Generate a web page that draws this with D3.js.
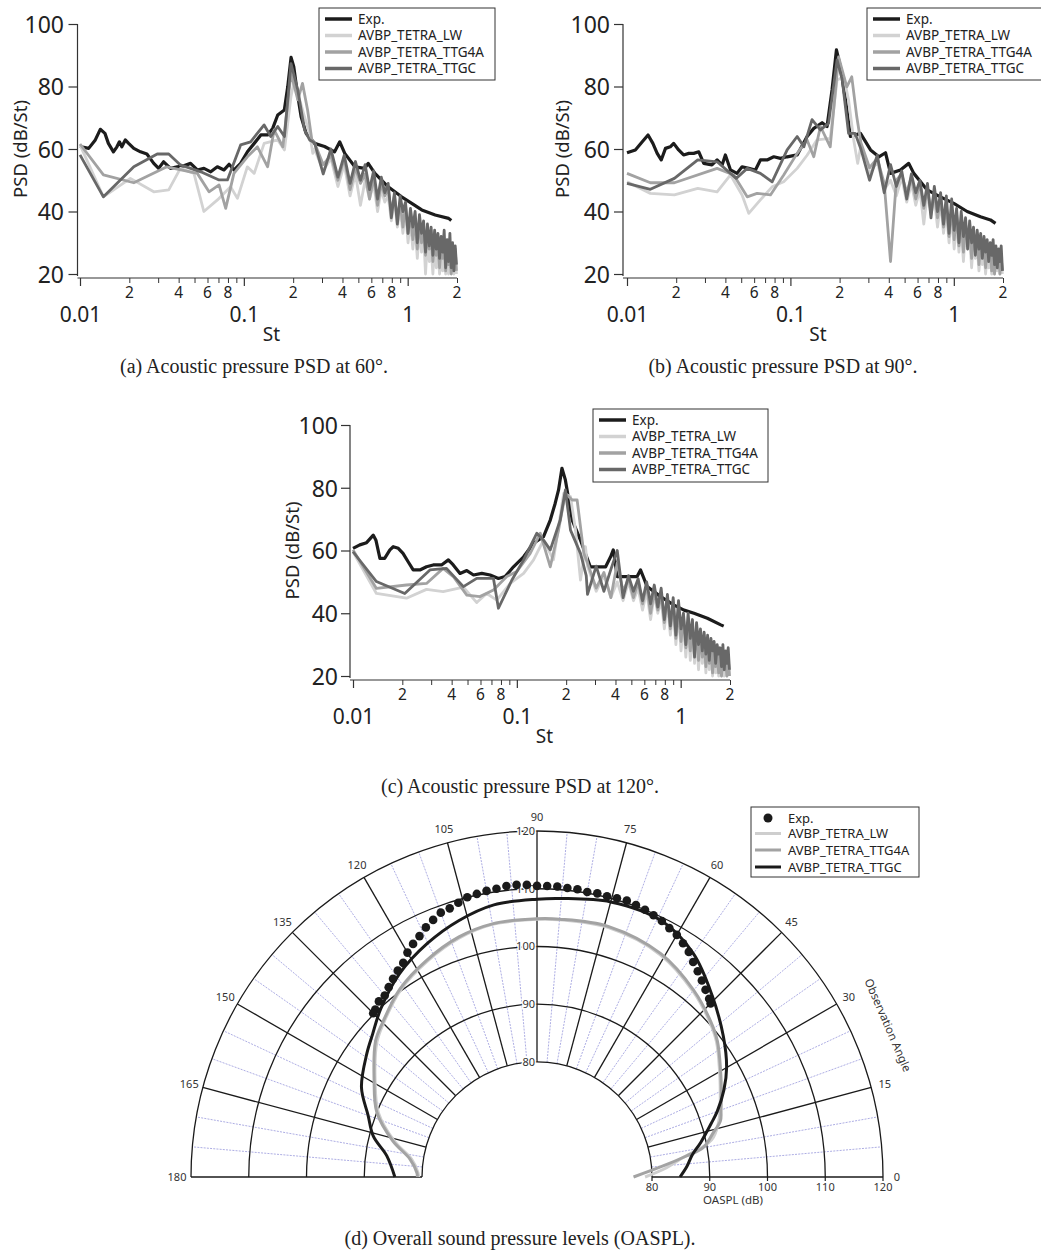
<!DOCTYPE html>
<html><head><meta charset="utf-8">
<script src="https://cdn.jsdelivr.net/npm/d3@7"></script>
<style>body{margin:0;background:#fff}svg{display:block}</style>
</head><body>
<svg id="c" width="1041" height="1255"></svg>
<script>
// ---------------- DATA ----------------
const seriesNames = ["Exp.", "AVBP_TETRA_LW", "AVBP_TETRA_TTG4A", "AVBP_TETRA_TTGC"];
const yTicks = [20, 40, 60, 80, 100];
const xMajorTicks = [0.01, 0.1, 1];
const xMinorTicks = [0.02,0.03,0.04,0.05,0.06,0.07,0.08,0.09,0.2,0.3,0.4,0.5,0.6,0.7,0.8,0.9,2];
const xMinorLabelled = [0.02,0.04,0.06,0.08,0.2,0.4,0.6,0.8,2];
const captions = ["(a) Acoustic pressure PSD at 60°.", "(b) Acoustic pressure PSD at 90°.", "(c) Acoustic pressure PSD at 120°.", "(d) Overall sound pressure levels (OASPL)."];

// shared Strouhal grid for the noisy high-frequency part of the simulations
const hfSt = [0.27,0.305,0.34,0.375,0.41,0.445,0.48,0.515,0.55,0.585,
  0.62,0.655,0.69,0.725,0.76,0.795,0.83,0.865,0.9,0.935,
  0.97,1.005,1.04,1.075,1.11,1.145,1.18,1.215,1.25,1.285,
  1.32,1.355,1.39,1.425,1.46,1.495,1.53,1.565,1.6,1.635,
  1.67,1.705,1.74,1.775,1.81,1.845,1.88,1.915,1.95,1.985];

// ---- panel (a) 60 deg ----
const a_exp = [[0.01,60.8],[0.0113,60.2],[0.0124,62.9],[0.0133,66.3],[0.0142,65.0],[0.0149,61.8],[0.016,59.1],[0.0168,60.7],[0.0174,62.3],[0.018,60.7],[0.0189,62.9],[0.0198,61.8],[0.0213,60.2],[0.0234,59.1],[0.0256,58.4],[0.0282,55.4],[0.0302,53.8],[0.0324,55.9],[0.0357,53.8],[0.0392,54.3],[0.043,54.6],[0.0473,55.4],[0.052,53.3],[0.0571,53.8],[0.0628,52.7],[0.0689,54.3],[0.0757,53.3],[0.0813,55.1],[0.0872,53.3],[0.0956,55.4],[0.1052,59.1],[0.1157,61.8],[0.127,64.5],[0.1397,64.5],[0.15,66.6],[0.161,70.9],[0.1767,72.5],[0.1853,79.9],[0.1942,89.3],[0.2017,86.3],[0.2115,78.3],[0.2237,70.3],[0.24,65.0],[0.27,61.8],[0.311,60.8],[0.358,59.1],[0.385,62.3],[0.413,58.6],[0.476,54.3],[0.547,53.8],[0.574,55.4],[0.631,52.2],[0.76,47.9],[0.918,44.7],[1.059,42.6],[1.219,40.5],[1.472,38.9],[1.778,37.8],[1.845,37.1]];
const a_lw_low = [[0.01,61.3],[0.0139,44.7],[0.0203,50.6],[0.0282,46.3],[0.0348,46.9],[0.041,53.8],[0.0496,52.2],[0.057,40.0],[0.069,43.7],[0.083,47.9],[0.0914,44.2],[0.105,54.3],[0.1157,52.2],[0.133,61.8],[0.161,62.9],[0.177,59.7],[0.194,76.8],[0.2035,82.1],[0.2136,77.8],[0.2347,70.3],[0.252,65.0],[0.2635,58.6]];
const a_g4_low = [[0.01,61.6],[0.0139,51.7],[0.0213,49.2],[0.0339,54.3],[0.052,52.2],[0.0613,46.3],[0.0706,48.5],[0.0775,41.0],[0.087,52.2],[0.105,57.5],[0.121,60.7],[0.1397,54.3],[0.153,66.1],[0.173,60.7],[0.194,84.2],[0.2136,75.7],[0.228,81.0],[0.245,72.5],[0.26,63.0]];
const a_gc_low = [[0.01,58.1],[0.0139,44.7],[0.0213,54.3],[0.0296,58.4],[0.0348,58.4],[0.041,54.9],[0.0546,52.7],[0.0706,50.1],[0.0794,50.1],[0.0956,61.3],[0.11,62.3],[0.133,67.7],[0.146,64.0],[0.161,67.2],[0.177,64.0],[0.194,87.3],[0.2136,78.8],[0.2347,66.1],[0.252,62.9]];
const a_lw_hf = [60,53,57,48,55,45,52,42,50,44, 49,40,47,43,45,37,44,35,41,33, 40,30,37,28,35,25,34,27,33,20, 31,24,29,20,30,22,28,20,27,21, 28,20,26,20,25,21,24,20,26,20];
const a_g4_hf = [62,55,58,50,57,47,54,49,52,44, 51,42,49,45,47,40,45,38,43,35, 42,33,39,31,37,28,36,30,35,26, 33,28,32,24,31,26,30,22,29,25, 30,21,28,23,27,20,26,22,28,21];
const a_gc_hf = [62,52,60,51,58,49,56,50,55,47, 53,44,51,46,49,38,46,36,45,40, 43,33,41,35,40,30,39,33,37,27, 36,29,35,26,34,28,33,25,32,27, 34,22,31,24,33,22,30,21,29,23];

// ---- panel (b) 90 deg ----
const b_exp = [[0.01,58.8],[0.01125,59.7],[0.0124,62.3],[0.01345,64.5],[0.0144,61.8],[0.0153,58.6],[0.0162,56.5],[0.0172,60.2],[0.0184,60.7],[0.0193,61.8],[0.0207,59.7],[0.0222,58.1],[0.0239,58.6],[0.0256,58.6],[0.0275,59.1],[0.0295,55.4],[0.0331,54.9],[0.0356,56.5],[0.0382,54.9],[0.04,58.1],[0.043,53.3],[0.0471,52.2],[0.0506,54.3],[0.0556,53.8],[0.0611,53.3],[0.0655,56.5],[0.072,56.5],[0.0791,57.5],[0.0869,57.0],[0.0955,57.5],[0.11,58.1],[0.1265,64.0],[0.139,66.6],[0.1563,68.4],[0.1676,67.2],[0.1798,78.9],[0.1913,91.7],[0.2023,86.3],[0.2172,75.7],[0.2329,64.0],[0.2684,65.0],[0.3093,59.7],[0.3478,57.5],[0.382,58.8],[0.41,52.2],[0.4714,53.3],[0.53,55.4],[0.569,52.2],[0.687,46.9],[0.828,44.7],[1.0,42.6],[1.207,40.0],[1.456,38.3],[1.676,37.3],[1.8,36.2]];
const b_lw_low = [[0.01,49.5],[0.0139,45.8],[0.0195,45.3],[0.0271,47.4],[0.0356,46.3],[0.043,51.7],[0.0506,45.3],[0.0556,39.4],[0.0655,43.7],[0.0773,47.9],[0.091,49.5],[0.11,53.8],[0.1265,58.0],[0.1453,62.9],[0.1753,63.4],[0.193,82.1],[0.212,83.1],[0.227,75.7],[0.244,62.9],[0.258,55.4]];
const b_g4_low = [[0.01,52.2],[0.0139,49.2],[0.0195,49.2],[0.0356,53.8],[0.045,51.7],[0.0544,44.7],[0.0625,45.8],[0.0755,45.3],[0.091,51.7],[0.11,58.6],[0.1265,62.9],[0.139,57.5],[0.1527,67.2],[0.1753,60.7],[0.1972,89.5],[0.2213,79.9],[0.2374,83.1],[0.2548,70.3]];
const b_gc_low = [[0.01,49.0],[0.0139,47.1],[0.0195,50.6],[0.0271,56.5],[0.0356,55.9],[0.0466,50.6],[0.0544,53.8],[0.0655,52.2],[0.0773,49.5],[0.0955,59.7],[0.11,64.0],[0.1209,60.7],[0.1356,69.4],[0.1527,66.1],[0.1712,68.2],[0.193,88.5],[0.2076,82.1],[0.227,65.0],[0.249,65.0]];
const b_lw_hf = [61,52,56,47,50,45,51,43,49,42, 47,36,46,39,44,35,43,33,40,30, 39,28,37,27,35,24,34,28,32,22, 31,25,29,21,28,23,27,20,26,22, 26,20,25,20,24,21,25,20,23,20];
const b_g4_hf = [62,54,57,49,24,50,52,46,51,44, 49,41,47,40,46,38,44,35,42,32, 41,31,39,29,37,27,36,30,34,25, 33,27,31,23,30,26,29,22,28,24, 28,21,27,20,26,22,27,20,25,21];
const b_gc_hf = [60,50,58,46,55,48,53,44,52,46, 50,42,49,38,48,40,46,36,45,33, 44,34,41,30,40,32,38,28,37,30, 35,26,34,28,33,25,32,27,31,24, 30,26,31,23,29,22,28,24,29,21];

// ---- panel (c) 120 deg ----
const c_exp = [[0.01,60.7],[0.011,61.8],[0.0121,62.5],[0.0133,64.9],[0.0138,63.3],[0.0146,57.5],[0.0156,57.5],[0.0168,60.2],[0.0176,61.2],[0.0189,60.7],[0.0202,59.1],[0.0217,56.4],[0.0233,53.8],[0.0256,53.8],[0.0281,54.8],[0.0309,55.4],[0.0347,55.4],[0.0382,57.0],[0.0409,55.4],[0.045,52.7],[0.0495,53.6],[0.0544,52.2],[0.0611,52.7],[0.0687,52.2],[0.0772,51.1],[0.0848,51.7],[0.0954,54.8],[0.11,58.0],[0.1265,62.3],[0.1455,64.4],[0.16,69.7],[0.1713,75.0],[0.1797,79.3],[0.1885,86.2],[0.1978,82.5],[0.2075,76.1],[0.2177,69.7],[0.2446,63.3],[0.2807,54.8],[0.309,54.8],[0.3483,54.8],[0.3735,58.0],[0.3879,60.2],[0.4102,51.7],[0.4716,51.7],[0.5421,51.7],[0.5686,53.8],[0.6245,48.5],[0.7544,45.3],[0.9114,42.6],[1.048,41.0],[1.206,40.0],[1.455,38.4],[1.758,36.3],[1.83,35.9]];
const c_lw_low = [[0.01,59.6],[0.0139,46.3],[0.0212,44.8],[0.0281,47.6],[0.0355,46.9],[0.0472,48.3],[0.0569,43.4],[0.0655,46.3],[0.0754,44.2],[0.0911,49.5],[0.11,52.7],[0.1265,57.0],[0.1455,63.3],[0.1673,57.0],[0.1931,78.2],[0.2126,77.2],[0.2281,66.5],[0.2446,50.6],[0.2624,61.2]];
const c_g4_low = [[0.01,60.2],[0.0139,47.9],[0.0212,49.0],[0.0281,49.5],[0.0355,54.3],[0.0409,51.7],[0.0495,45.8],[0.0595,45.3],[0.072,47.4],[0.0868,51.7],[0.1,53.3],[0.1207,59.1],[0.139,65.5],[0.16,54.8],[0.1797,66.5],[0.1978,78.2],[0.2177,76.1],[0.2333,76.1],[0.2564,59.1]];
const c_gc_low = [[0.01,59.6],[0.0139,50.1],[0.0207,46.3],[0.0295,53.8],[0.0372,54.3],[0.0472,48.5],[0.0569,51.1],[0.072,51.1],[0.0772,41.6],[0.0933,50.6],[0.11,57.0],[0.1325,65.5],[0.1455,63.3],[0.16,60.2],[0.184,69.7],[0.1978,79.3],[0.2126,66.5],[0.2446,59.1],[0.2652,52.0]];
const c_lw_hf = [55,47,52,45,50,44,50,44,48,41, 47,38,46,40,44,35,43,33,41,30, 40,28,37,26,36,25,34,24,33,22, 31,24,30,21,29,22,28,20,27,21, 26,20,25,20,24,20,25,20,24,20];
const c_g4_hf = [56,48,53,45,56,47,51,45,50,43, 49,40,47,41,46,37,45,35,43,32, 41,31,39,29,37,28,36,27,34,25, 33,26,31,23,30,24,29,21,28,23, 27,21,27,20,26,22,25,20,26,20];
const c_gc_hf = [46,55,47,54,60,45,52,47,51,44, 50,43,49,42,48,38,46,36,45,33, 44,35,40,30,40,32,38,26,37,30, 35,28,34,27,33,25,32,28,31,24, 30,27,29,23,30,22,28,24,29,22];

// ---- panel (d) OASPL polar ----
const polarRingValues = [80, 90, 100, 110, 120];
const polarAngleTicks = [0,15,30,45,60,75,90,105,120,135,150,165,180];
const expAngles = [45,46,48,50,52,54,56,58,60,62,64,66,68,70,72,74,76,78,80,82,84,86,88,90,92,94,96,98,100,102,104,106,108,110,112,114,116,118,120,122,124,126,128,130,132,134,135];
const expOaspl = [102.6,103.0,103.7,104.5,105.3,106.1,107.1,107.8,108.5,108.9,109.4,109.7,110.0,110.2,110.4,110.3,110.2,110.3,110.2,110.4,110.4,110.5,110.5,110.5,110.7,110.8,110.75,110.5,110.4,110.2,110.0,109.5,109.0,108.8,108.1,107.4,106.5,105.8,104.95,103.8,103.2,102.5,101.8,101.1,101.0,100.4,100.2];
const lwAngles = [0,4,7,12,17,20,25,30,37,42,50,61,74,85,90,100,108,117,126,135,140,149,158,166,172,178,180];
const lwOaspl = [78.8,82.5,85.0,91.0,93.0,93.8,95.1,96.6,99.0,100.3,102.1,104.1,105.0,104.8,104.7,104.5,103.6,102.0,100.2,97.7,96.3,92.8,89.7,85.5,82.0,80.7,80.6];
const g4Angles = [0,5,8,10,14,17,20,25,30,37,42,50,61,74,85,90,100,108,117,126,135,140,149,158,166,172,178,180];
const g4Oaspl = [76.8,82.0,86.2,89.3,91.5,93.3,94.0,95.3,96.8,99.2,100.5,102.3,104.3,105.2,104.9,104.8,104.6,103.8,102.2,100.4,97.9,96.6,93.0,90.0,85.8,82.3,80.9,80.8];
const gcAngles = [0,4,8,12,17,20,25,30,37,46,55,64,75,85,90,99,107,115,124,133,139,144,153,160,166,172,180];
const gcOaspl = [84.85,86.1,87.2,89.1,91.6,93.3,95.8,98.0,100.5,103.75,107.3,109.4,109.4,108.5,108.2,107.8,106.5,104.8,102.6,99.8,97.8,96.5,94.2,91.2,89.3,86.35,84.7];

// ---------------- DRAWING ----------------
const svg = d3.select("#c");
const SANS = "'Noto Sans', 'DejaVu Sans', sans-serif";
const SERIF = "'Liberation Serif', 'DejaVu Serif', serif";
const psdColors = ["#1c1c1c", "#d2d2d2", "#a2a2a2", "#686868"];
const psdWidths = [3.2, 2.8, 2.8, 2.8];

function joinHF(low, hf) {
  return low.concat(hf.map((v, i) => [hfSt[i], v]));
}

const panels = [
  {x0:80, x2:457, yTop:24, yBot:274, axX:77.5, axY:278, ylabX:20, tickLabX:64, leg:{x:319,y:8,w:176,h:72}, capX:254, capY:373,
   series:[a_exp, joinHF(a_lw_low,a_lw_hf), joinHF(a_g4_low,a_g4_hf), joinHF(a_gc_low,a_gc_hf)], cap:captions[0]},
  {x0:627, x2:1003, yTop:24, yBot:274, axX:623, axY:278, ylabX:562, tickLabX:610, leg:{x:867,y:8,w:176,h:72}, capX:783, capY:373,
   series:[b_exp, joinHF(b_lw_low,b_lw_hf), joinHF(b_g4_low,b_g4_hf), joinHF(b_gc_low,b_gc_hf)], cap:captions[1]},
  {x0:353, x2:730, yTop:425, yBot:676, axX:350, axY:680, ylabX:292, tickLabX:338, leg:{x:593,y:409,w:175,h:73}, capX:520, capY:793,
   series:[c_exp, joinHF(c_lw_low,c_lw_hf), joinHF(c_g4_low,c_g4_hf), joinHF(c_gc_low,c_gc_hf)], cap:captions[2]}
];

function minorLabel(d) {
  const m = Math.round(d / Math.pow(10, Math.floor(Math.log10(d) + 1e-9)));
  return String(m);
}

panels.forEach(p => {
  const g = svg.append("g");
  const x = d3.scaleLog().domain([0.01, 2]).range([p.x0, p.x2]);
  const y = d3.scaleLinear().domain([20, 100]).range([p.yBot, p.yTop]);

  // axes lines
  g.append("line").attr("x1", p.axX).attr("x2", p.axX).attr("y1", y(100)).attr("y2", p.axY - 2)
    .attr("stroke", "#333").attr("stroke-width", 1.2);
  g.append("line").attr("x1", p.axX).attr("x2", x(2)).attr("y1", p.axY).attr("y2", p.axY)
    .attr("stroke", "#333").attr("stroke-width", 1.2);

  // y axis
  const ya = g.append("g").attr("transform", `translate(${p.axX},0)`)
    .call(d3.axisLeft(y).tickValues(yTicks).tickSize(9).tickPadding(4));
  ya.select(".domain").remove();
  ya.selectAll("line").attr("stroke", "#333").attr("stroke-width", 1.2);
  ya.selectAll("text").attr("font-family", SANS).attr("font-size", 23).attr("fill", "#222")
    .attr("x", p.tickLabX - p.axX).attr("dy", "0.36em");

  // x axis major
  const xa = g.append("g").attr("transform", `translate(0,${p.axY})`)
    .call(d3.axisBottom(x).tickValues(xMajorTicks).tickSize(8).tickFormat(d => String(d)));
  xa.select(".domain").remove();
  xa.selectAll("line").attr("stroke", "#333").attr("stroke-width", 1.2);
  xa.selectAll("text").attr("font-family", SANS).attr("font-size", 21).attr("fill", "#222")
    .attr("y", 36).attr("dy", "0.36em");
  // x axis minor ticks (no text)
  const xm = g.append("g").attr("transform", `translate(0,${p.axY})`)
    .call(d3.axisBottom(x).tickValues(xMinorTicks).tickSize(5).tickFormat(""));
  xm.select(".domain").remove();
  xm.selectAll("text").remove();
  xm.selectAll("line").attr("stroke", "#333").attr("stroke-width", 1);
  // minor labels (2,4,6,8 of each decade + final 2)
  g.selectAll("text.minl").data(xMinorLabelled).enter().append("text")
    .attr("x", d => x(d)).attr("y", p.axY + 14).attr("dy", "0.36em").attr("text-anchor", "middle")
    .attr("font-family", SANS).attr("font-size", 15.5).attr("fill", "#222").text(minorLabel);

  // axis titles
  g.append("text").attr("x", (p.x0 + p.x2) / 2 + 3).attr("y", p.axY + 56).attr("dy", "0.36em")
    .attr("text-anchor", "middle").attr("font-family", SANS).attr("font-size", 19).attr("fill", "#222").text("St");
  g.append("text").attr("transform", `translate(${p.ylabX},${(p.yTop + p.yBot) / 2}) rotate(-90)`)
    .attr("dy", "0.36em").attr("text-anchor", "middle").attr("font-family", SANS).attr("font-size", 18.5)
    .attr("fill", "#222").text("PSD (dB/St)");

  // lines
  const line = d3.line().x(d => x(d[0])).y(d => y(Math.max(20, d[1])));
  p.series.forEach((s, i) => {
    g.append("path").datum(s).attr("d", line).attr("fill", "none")
      .attr("stroke", psdColors[i]).attr("stroke-width", psdWidths[i]).attr("stroke-linejoin", "round");
  });

  // legend
  const L = p.leg;
  const lg = g.append("g");
  lg.append("rect").attr("x", L.x).attr("y", L.y).attr("width", L.w).attr("height", L.h)
    .attr("fill", "#fff").attr("stroke", "#333").attr("stroke-width", 1);
  const rows = [11, 27.5, 44, 60.5];
  seriesNames.forEach((n, i) => {
    lg.append("line").attr("x1", L.x + 6).attr("x2", L.x + 33).attr("y1", L.y + rows[i]).attr("y2", L.y + rows[i])
      .attr("stroke", psdColors[i]).attr("stroke-width", 3.5);
    lg.append("text").attr("x", L.x + 39).attr("y", L.y + rows[i]).attr("dy", "0.36em")
      .attr("font-family", SANS).attr("font-size", 13.5).attr("fill", "#222").text(n);
  });

  // caption
  svg.append("text").attr("x", p.capX).attr("y", p.capY).attr("text-anchor", "middle")
    .attr("font-family", SERIF).attr("font-size", 20).attr("fill", "#222").text(p.cap);
});

// ---------- polar OASPL ----------
const cx = 537, cy = 1177;
const rr = d3.scaleLinear().domain([80, 120]).range([115, 346]);
const rad = t => t * Math.PI / 180;
const pg = svg.append("g").attr("transform", `translate(${cx},${cy})`);

// minor blue dashed radials every 5 deg
d3.range(0, 181, 5).filter(t => t % 15 !== 0).forEach(t => {
  pg.append("line")
    .attr("x1", rr(80) * Math.cos(rad(t))).attr("y1", -rr(80) * Math.sin(rad(t)))
    .attr("x2", rr(120) * Math.cos(rad(t))).attr("y2", -rr(120) * Math.sin(rad(t)))
    .attr("stroke", "#a4a4e0").attr("stroke-width", 0.9).attr("stroke-dasharray", "2,1.2");
});
// rings
polarRingValues.forEach(v => {
  const pth = d3.path();
  pth.arc(0, 0, rr(v), Math.PI, 2 * Math.PI);
  pg.append("path").attr("d", pth.toString()).attr("fill", "none").attr("stroke", "#1a1a1a").attr("stroke-width", 1.3);
});
// major radials + angle labels
polarAngleTicks.forEach(t => {
  pg.append("line")
    .attr("x1", rr(80) * Math.cos(rad(t))).attr("y1", -rr(80) * Math.sin(rad(t)))
    .attr("x2", rr(120) * Math.cos(rad(t))).attr("y2", -rr(120) * Math.sin(rad(t)))
    .attr("stroke", "#1a1a1a").attr("stroke-width", 1.3);
  pg.append("text").attr("x", 360 * Math.cos(rad(t))).attr("y", -360 * Math.sin(rad(t))).attr("dy", "0.36em")
    .attr("text-anchor", "middle").attr("font-family", SANS).attr("font-size", 11).attr("fill", "#333").text(t);
});
// ring labels on the 90 deg axis
polarRingValues.forEach(v => {
  pg.append("text").attr("x", -2).attr("y", -rr(v)).attr("dy", "0.36em").attr("text-anchor", "end")
    .attr("font-family", SANS).attr("font-size", 11).attr("fill", "#333")
    .attr("stroke", "#fff").attr("stroke-width", 3).attr("paint-order", "stroke").text(v);
});
// bottom scale ticks + labels (right side)
polarRingValues.forEach(v => {
  pg.append("line").attr("x1", rr(v)).attr("x2", rr(v)).attr("y1", 0).attr("y2", 4).attr("stroke", "#1a1a1a").attr("stroke-width", 1.2);
  pg.append("text").attr("x", rr(v)).attr("y", 10).attr("dy", "0.36em").attr("text-anchor", "middle")
    .attr("font-family", SANS).attr("font-size", 11).attr("fill", "#333").text(v);
});
pg.append("text").attr("x", 196).attr("y", 23).attr("dy", "0.36em").attr("text-anchor", "middle")
  .attr("font-family", SANS).attr("font-size", 11.5).attr("fill", "#333").text("OASPL (dB)");
pg.append("text").attr("transform", `translate(351,-152) rotate(66.6)`).attr("dy", "0.36em").attr("text-anchor", "middle")
  .attr("font-family", SANS).attr("font-size", 11.5).attr("fill", "#333").text("Observation Angle");

// curves
const polarLine = d3.lineRadial().angle(d => rad(90 - d[0])).radius(d => rr(d[1])).curve(d3.curveCatmullRom.alpha(0.5));
const polarSeries = [
  {a: lwAngles, v: lwOaspl, c: "#cecece"},
  {a: g4Angles, v: g4Oaspl, c: "#a3a3a3"},
  {a: gcAngles, v: gcOaspl, c: "#1a1a1a"}
];
polarSeries.forEach(s => {
  pg.append("path").datum(s.a.map((t, i) => [t, s.v[i]])).attr("d", polarLine)
    .attr("fill", "none").attr("stroke", s.c).attr("stroke-width", 3);
});
// exp dots
pg.selectAll("circle.exp").data(expAngles.map((t, i) => [t, expOaspl[i]])).enter().append("circle")
  .attr("cx", d => rr(d[1]) * Math.cos(rad(d[0]))).attr("cy", d => -rr(d[1]) * Math.sin(rad(d[0])))
  .attr("r", 4.3).attr("fill", "#1a1a1a");

// polar legend
const PL = {x: 751, y: 807, w: 168, h: 70};
const plg = svg.append("g");
plg.append("rect").attr("x", PL.x).attr("y", PL.y).attr("width", PL.w).attr("height", PL.h)
  .attr("fill", "#fff").attr("stroke", "#333").attr("stroke-width", 1);
const prow = [11, 26.5, 43, 60];
plg.append("circle").attr("cx", PL.x + 17).attr("cy", PL.y + prow[0]).attr("r", 4.5).attr("fill", "#1a1a1a");
["#cecece", "#a3a3a3", "#1a1a1a"].forEach((c, i) => {
  plg.append("line").attr("x1", PL.x + 4).attr("x2", PL.x + 30).attr("y1", PL.y + prow[i + 1]).attr("y2", PL.y + prow[i + 1])
    .attr("stroke", c).attr("stroke-width", 3);
});
seriesNames.forEach((n, i) => {
  plg.append("text").attr("x", PL.x + 37).attr("y", PL.y + prow[i]).attr("dy", "0.36em")
    .attr("font-family", SANS).attr("font-size", 13).attr("fill", "#222").text(n);
});
svg.append("text").attr("x", 520).attr("y", 1245).attr("text-anchor", "middle")
  .attr("font-family", SERIF).attr("font-size", 20).attr("fill", "#222").text(captions[3]);
</script>
</body></html>
